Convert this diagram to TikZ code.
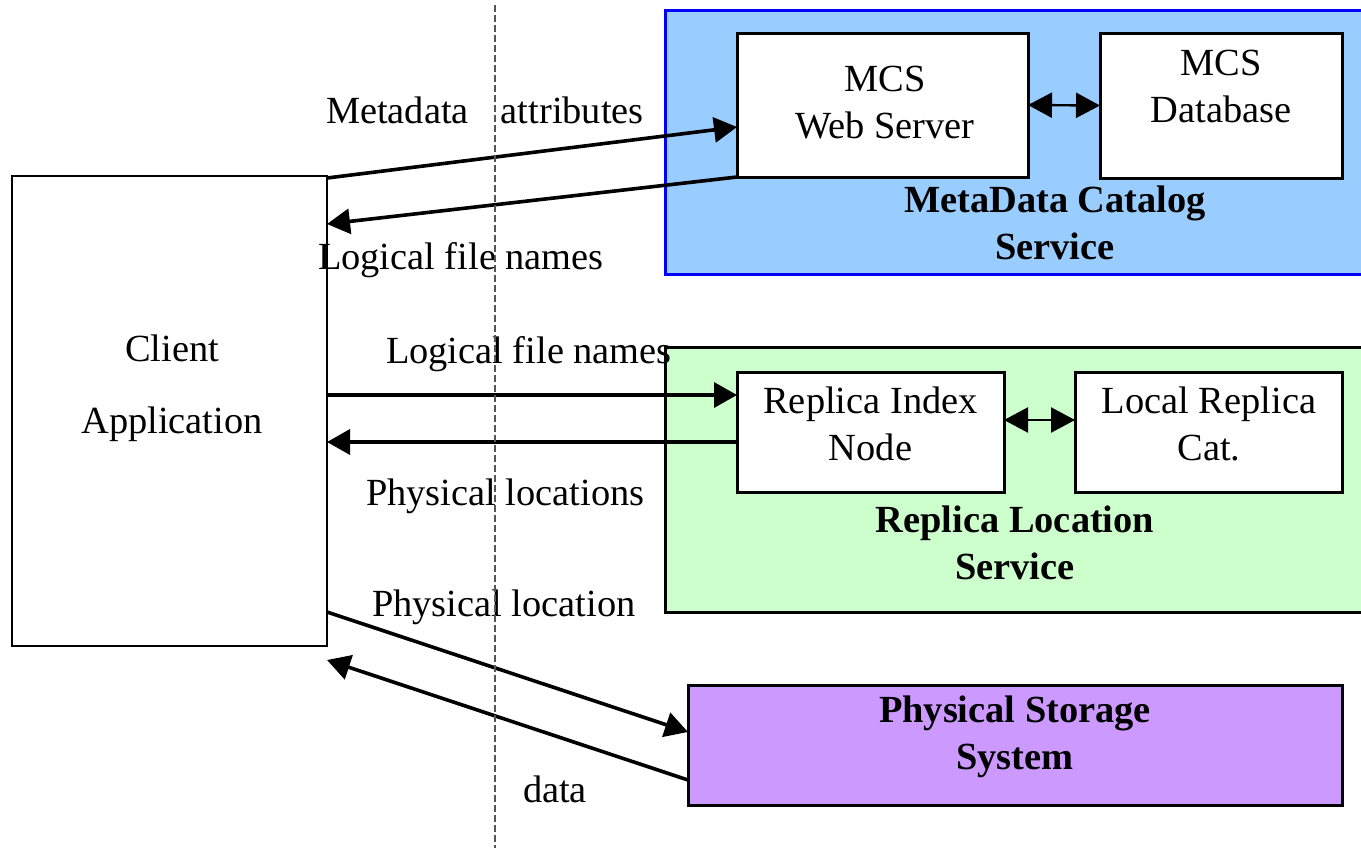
\documentclass[tikz,border=0pt]{standalone}
\usepackage{fontspec}
\setmainfont{Liberation Serif}
\usetikzlibrary{arrows.meta,calc}
\definecolor{mcsfill}{HTML}{99CCFF}
\definecolor{mcsedge}{HTML}{0000FF}
\definecolor{rlsfill}{HTML}{CCFFCC}
\definecolor{pssfill}{HTML}{CC99FF}
\definecolor{divider}{HTML}{555555}
\begin{document}
\begin{tikzpicture}[x=0.5pt,y=-0.5pt,
  every node/.style={font=\fontsize{19.2}{23.5}\selectfont, inner sep=0pt, outer sep=0pt},
  box/.style={draw=black, line width=1.5pt, fill=white, rectangle},
  title/.style={font=\fontsize{19.2}{23.5}\selectfont\bfseries, align=center},
  txt/.style={align=center},
  lbl/.style={anchor=west},
  flow/.style={line width=1.8pt, -{Triangle[length=11.5pt,width=12.5pt]}},
  link/.style={line width=1.2pt, {Triangle[length=12pt,width=12.5pt]}-{Triangle[length=12pt,width=12.5pt]}},
  divline/.style={draw=divider, line width=0.8pt, dash pattern=on 3.5pt off 1.5pt}]
\useasboundingbox (0,0) rectangle (1361,848);

% service panels (they run off the right edge)
\fill[mcsfill] (665,10) rectangle (1365,274);
\draw[mcsedge, line width=1.5pt] (1365,10) -- (665,10) -- (665,274) -- (1365,274);
\fill[rlsfill] (665,347) rectangle (1365,612);
\draw[black, line width=1.5pt] (1365,347) -- (665,347) -- (665,612) -- (1365,612);

% client
\node[box, line width=1.2pt, minimum width=157.5pt, minimum height=235pt] (client) at (169.5,411) {};
\node[txt, font=\fontsize{19.2}{36}\selectfont] (clienttxt) at (172,388) {Client\\Application};

% metadata catalog service
\node[box, minimum width=145.5pt, minimum height=72pt] (ws) at (882.5,105) {};
\node[txt] (wstxt) at (885,103) {MCS\\Web Server};
\node[box, minimum width=121pt, minimum height=72.5pt] (db) at (1221,105.5) {};
\node[txt] (dbtxt) at (1221,86) {MCS\\Database};
\node[title] (mcstitle) at (1055,223) {MetaData Catalog\\Service};

% replica location service
\node[box, minimum width=133.5pt, minimum height=60pt] (rin) at (870.5,432) {};
\node[txt] (rintxt) at (870.5,424) {Replica Index\\Node};
\node[box, minimum width=133.5pt, minimum height=60pt] (lrc) at (1208.5,432) {};
\node[txt] (lrctxt) at (1209,424) {Local Replica\\Cat.};
\node[title] (rlstitle) at (1015,543) {Replica Location\\Service};

% physical storage
\node[box, fill=pssfill, minimum width=327pt, minimum height=60pt] (pss) at (1015,745) {};
\node[title] (psstitle) at (1015,737) {Physical Storage\\System};

% links inside the services
\draw[link] (ws.east) -- (db.west);
\draw[link] ([yshift=6pt]rin.east) -- ([yshift=6pt]lrc.west);

% client <-> MCS
\draw[flow] ([yshift=-1pt]client.north east) -- ([yshift=-11pt]ws.west);
\draw[flow] (ws.south west) -- ([yshift=-24pt]client.north east);

% client <-> RLS
\coordinate (rq) at ([yshift=18.5pt]rin.west);
\coordinate (rs) at ([yshift=-5pt]rin.west);
\draw[flow] (client.east |- rq) -- (rq);
\draw[flow] (rs) -- (client.east |- rs);

% client <-> storage
\draw[flow] ([yshift=17pt]client.south east) -- ([yshift=6.5pt]pss.west);
\draw[flow] ([yshift=-17.5pt]pss.west) -- ([yshift=-7pt]client.south east);

% message labels
\node[lbl] (l1) at (326,110) {Metadata\hspace{16pt}attributes};
\node[lbl] (l2) at (318,260) {Logical file names};
\node[lbl] (l3) at (386,354) {Logical file names};
\node[lbl] (l4) at (366,496) {Physical locations};
\node[lbl] (l5) at (372,607) {Physical location};
\node[lbl] (l6) at (523,789) {data};

% divider
\coordinate (dtop) at (495,5);
\coordinate (dbot) at (495,848);
\draw[divline] (dtop) -- (dbot);
\end{tikzpicture}
\end{document}
